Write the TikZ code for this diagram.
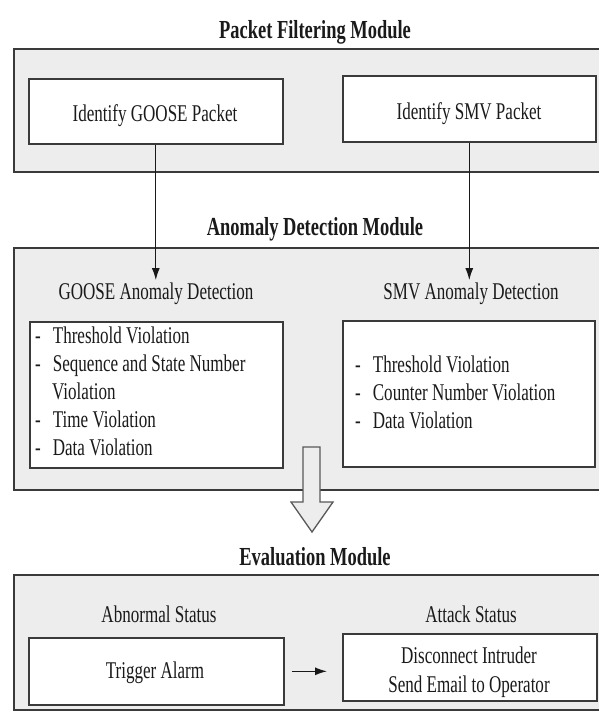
\documentclass[tikz,border=0pt]{standalone}
\usepackage{fontspec}
\setmainfont{Liberation Serif}[FakeStretch=0.71]
\usetikzlibrary{arrows.meta}

\definecolor{panelgray}{HTML}{EDEDED}
\definecolor{edgegray}{HTML}{3A3A3A}
\definecolor{inkgray}{HTML}{1A1A1A}

\newcommand\bodyfont{\fontsize{24}{28}\selectfont}
\newcommand\headfont{\fontsize{26}{30}\selectfont\bfseries}

\begin{document}
\begin{tikzpicture}[x=1pt, y=-1pt,
  module/.style={draw=edgegray, line width=1.6pt, fill=panelgray, inner sep=0pt},
  stepbox/.style={draw=edgegray, line width=1.6pt, fill=white, inner sep=0pt},
  txt/.style={font=\bodyfont, text=inkgray, inner sep=2pt, anchor=base},
  listtxt/.style={font=\bodyfont, text=inkgray, inner sep=0pt, anchor=north west, align=left},
  ttl/.style={font=\headfont, text=inkgray, inner sep=2pt, anchor=base},
  flow/.style={draw=black!90, line width=1.3pt, -{Latex[length=12pt,width=8pt]}},
  blockarrow/.style={draw=edgegray!85, line width=1.3pt, fill=panelgray, line join=miter}
]
\useasboundingbox (0,0) rectangle (599,713);

% ---------- Packet filtering module ----------
\node[ttl] (pfm) at (315,38) {Packet Filtering Module};
\draw[module] (14,49) rectangle (606,172);
\node[stepbox, anchor=north west, minimum width=254pt, minimum height=65pt] (goosepkt) at (28,78) {};
\node[stepbox, anchor=north west, minimum width=253pt, minimum height=66pt] (smvpkt) at (342,75) {};
\node[txt] (goosepkttxt) at (155,121) {Identify GOOSE Packet};
\node[txt] (smvpkttxt) at (469,119) {Identify SMV Packet};

% ---------- Anomaly detection module ----------
\node[ttl] (adm) at (315,235) {Anomaly Detection Module};
\draw[module] (14,248) rectangle (606,490);
\node[txt] (gooseanom) at (156,299) {GOOSE Anomaly Detection};
\node[txt] (smvanom) at (471,299) {SMV Anomaly Detection};
\node[stepbox, anchor=north west, minimum width=253pt, minimum height=146pt] (gooselist) at (29,321) {};
\node[stepbox, anchor=north west, minimum width=252pt, minimum height=146pt] (smvlist) at (342,320) {};
\node[listtxt] (gooselisttxt) at (35,327)
  {-\hspace{12pt}Threshold Violation\\
   -\hspace{12pt}Sequence and State Number\\
   \hspace*{17pt}Violation\\
   -\hspace{12pt}Time Violation\\
   -\hspace{12pt}Data Violation};
\node[listtxt] (smvlisttxt) at (355,356)
  {-\hspace{12pt}Threshold Violation\\
   -\hspace{12pt}Counter Number Violation\\
   -\hspace{12pt}Data Violation};

\draw[flow] (goosepkt.south) -- (goosepkt.south |- gooseanom.north);
\draw[flow] (smvpkt.south) -- (smvpkt.south |- smvanom.north);

% hollow arrow from anomaly detection down to evaluation
\draw[blockarrow] (303,447) -- (320,447) -- (320,502) -- (333,502)
  -- (312,532) -- (291,502) -- (303,502) -- cycle;

% ---------- Evaluation module ----------
\node[ttl] (evm) at (315,565) {Evaluation Module};
\draw[module] (14,575) rectangle (606,710);
\node[txt] (abnormal) at (159,622) {Abnormal Status};
\node[txt] (attack) at (471,622) {Attack Status};
\node[stepbox, anchor=north west, minimum width=255pt, minimum height=67pt] (alarm) at (28,637) {};
\node[stepbox, anchor=north west, minimum width=254pt, minimum height=67pt] (response) at (342,633) {};
\node[txt] (alarmtxt) at (155,678) {Trigger Alarm};
% the base anchor of a two-line node sits on its last line
\node[txt, align=center, font=\fontsize{24}{29}\selectfont] (responsetxt) at (469,692)
  {Disconnect Intruder\\Send Email to Operator};

\draw[flow, shorten <=7pt, shorten >=15pt] (alarm.east) -- (alarm.east -| response.west);
\end{tikzpicture}
\end{document}
